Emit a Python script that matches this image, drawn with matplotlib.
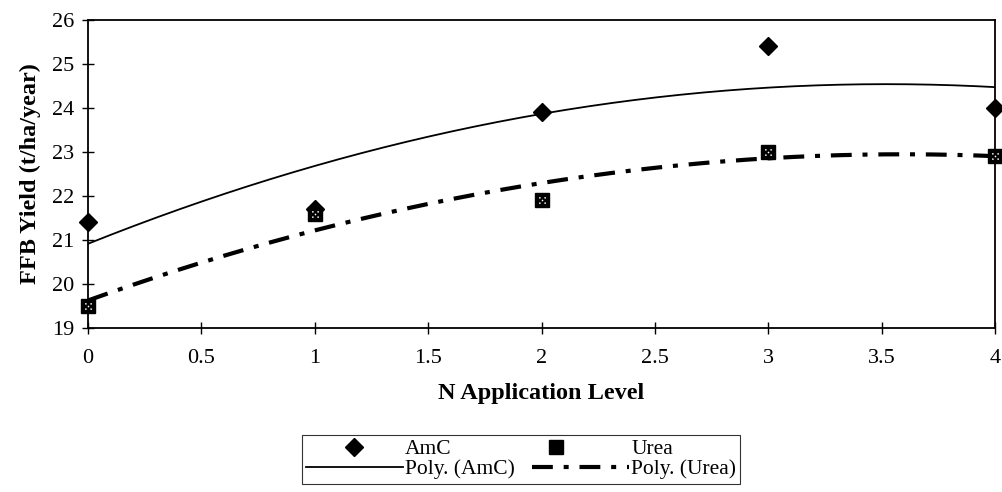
import numpy as np
import matplotlib
matplotlib.use("Agg")
import matplotlib.pyplot as plt
from matplotlib.path import Path
from matplotlib.legend_handler import HandlerTuple

# ---- data ----
levels = [0, 1, 2, 3, 4]
amc = [21.4, 21.7, 23.9, 25.4, 24.0]
urea = [19.5, 21.6, 21.9, 23.0, 22.9]
xticks = [0, 0.5, 1, 1.5, 2, 2.5, 3, 3.5, 4]
xticklabels = ["0", "0.5", "1", "1.5", "2", "2.5", "3", "3.5", "4"]
yticks = [19, 20, 21, 22, 23, 24, 25, 26]

plt.rcParams['font.family'] = ['Liberation Serif', 'DejaVu Serif']

fig = plt.figure(figsize=(10.02, 4.92), dpi=100)
ax = fig.add_axes([88/1002, 1-328/492, (995-88)/1002, (328-20)/492])

# polynomial (order 2) trendlines, as in the original spreadsheet chart
xs = np.linspace(0, 4, 200)
p_amc = np.poly1d(np.polyfit(levels, amc, 2))
p_urea = np.poly1d(np.polyfit(levels, urea, 2))

l_amc, = ax.plot(xs, p_amc(xs), color='black', lw=1.3, label='Poly. (AmC)')
l_urea, = ax.plot(xs, p_urea(xs), color='black', lw=3.0,
                  linestyle=(0, (5, 2.6, 1.2, 2.6)), label='Poly. (Urea)')

m_amc, = ax.plot(levels, amc, linestyle='none', marker='D', ms=9.5,
                 color='black', clip_on=False, zorder=5, label='AmC')

# square marker with a dotted pattern
circ = Path.unit_circle()
pts = [(-1, -1), (1, -1), (0, 0), (-1, 1), (1, 1)]
verts, codes = [], []
for (cx, cy) in pts:
    v = circ.vertices * 0.32 + np.array([cx, cy])
    verts.append(v)
    codes.append(circ.codes)
dots = Path(np.vstack(verts), np.concatenate(codes))

m_urea, = ax.plot(levels, urea, linestyle='none', marker='s', ms=10,
                  color='black', clip_on=False, zorder=5)
m_urea_d, = ax.plot(levels, urea, linestyle='none', marker=dots, ms=5,
                    color='white', mec='white', mew=0, clip_on=False, zorder=6)

ax.set_xlim(0, 4)
ax.set_ylim(19, 26)
ax.set_xticks(xticks)
ax.set_xticklabels(xticklabels)
ax.set_yticks(yticks)
ax.tick_params(direction='inout', length=8, width=1, labelsize=16, colors='black')
ax.tick_params(axis='x', pad=11)
ax.tick_params(axis='y', pad=6)
for s in ax.spines.values():
    s.set_linewidth(1.3)
    s.set_color('black')

ax.set_xlabel('N Application Level', fontsize=17.5, fontweight='bold', labelpad=11)
ax.set_ylabel('FFB Yield (t/ha/year)', fontsize=17.5, fontweight='bold', labelpad=8)

handles = [m_amc, l_amc, (m_urea, m_urea_d), l_urea]
labels = ['AmC', 'Poly. (AmC)', 'Urea', 'Poly. (Urea)']
leg = fig.legend(handles, labels, ncol=2, loc='upper center',
                 bbox_to_anchor=(521/1002, 1-435/492), fontsize=15.5,
                 frameon=True, fancybox=False, edgecolor='black',
                 handlelength=4.5, handletextpad=0.1, labelspacing=0.0,
                 columnspacing=0.8, borderpad=0.2, borderaxespad=0,
                 handler_map={tuple: HandlerTuple(ndivide=None, pad=0)})
leg.get_frame().set_linewidth(0.8)

fig.savefig('out.png', dpi=100, facecolor='white')
